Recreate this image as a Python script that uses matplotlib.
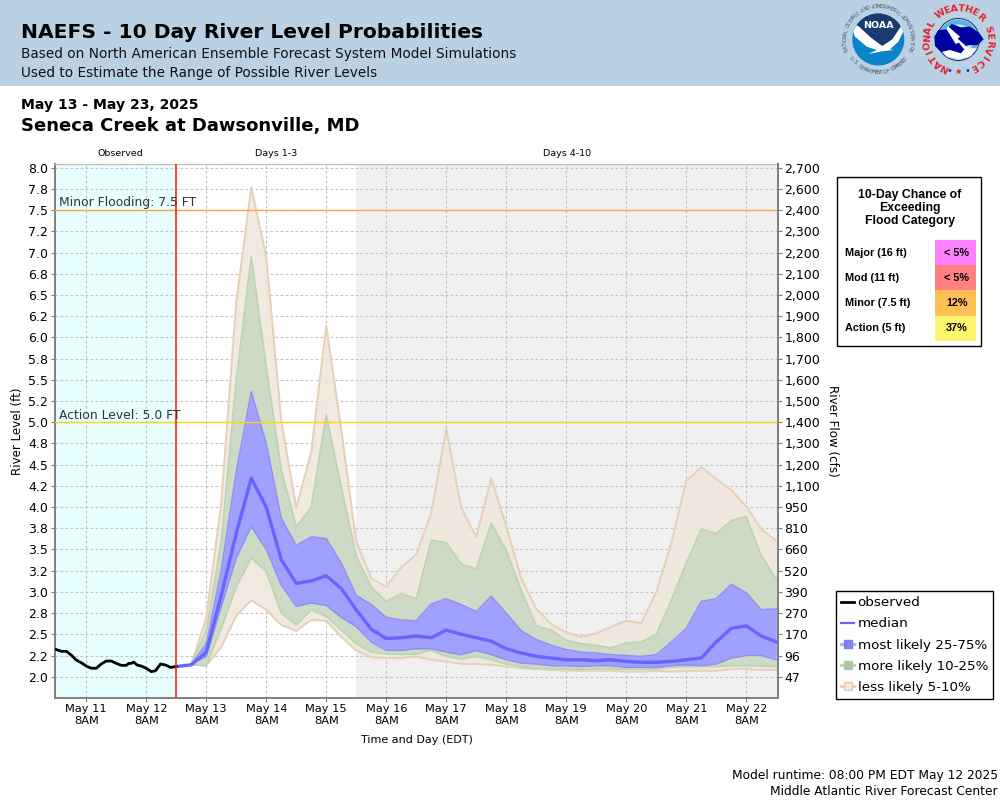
import math
import matplotlib
matplotlib.use("Agg")
import matplotlib.pyplot as plt
from matplotlib.lines import Line2D
from matplotlib.patches import Circle, Polygon, Rectangle

# hours relative to May 13 8AM
obs_hours = [-60, -58, -56, -54, -52, -50, -48, -46, -44, -42, -40, -38, -36, -34, -32, -31, -30, -29, -27.7,
             -26, -24, -22, -20.3, -18.3, -16.3, -14.3, -12]
obs_level = [2.32, 2.30, 2.30, 2.255, 2.197, 2.165, 2.126, 2.10, 2.10, 2.15, 2.185, 2.185, 2.157, 2.134, 2.134,
             2.157, 2.157, 2.173, 2.138, 2.126, 2.10, 2.06, 2.07, 2.15, 2.138, 2.11, 2.12]

fc_hours = list(range(-12, 234, 6))
tan_top = [2.12, 2.145, 2.69, 4.05, 6.41, 7.77, 6.95, 5.02, 3.99, 4.65, 6.14, 4.91, 3.59, 3.16, 3.06, 3.29, 3.44,
           3.93, 4.92, 3.99, 3.65, 4.34, 3.77, 3.16, 2.80, 2.62, 2.52, 2.47, 2.51, 2.59, 2.66, 2.63, 3.00, 3.57,
           4.31, 4.47, 4.33, 4.20, 4.01, 3.74, 3.60]
green_top = [2.12, 2.145, 2.55, 3.60, 5.50, 6.95, 5.66, 4.44, 3.77, 4.00, 5.09, 4.24, 3.42, 3.06, 2.89, 2.98, 2.92,
             3.61, 3.58, 3.33, 3.27, 3.81, 3.49, 3.02, 2.60, 2.55, 2.43, 2.39, 2.37, 2.34, 2.40, 2.41, 2.50, 2.90,
             3.34, 3.74, 3.69, 3.84, 3.89, 3.43, 3.15]
blue_top = [2.12, 2.145, 2.39, 3.26, 4.42, 5.36, 4.75, 3.87, 3.55, 3.65, 3.63, 3.34, 2.96, 2.85, 2.70, 2.67, 2.66,
            2.86, 2.92, 2.85, 2.77, 2.95, 2.75, 2.54, 2.44, 2.37, 2.32, 2.29, 2.28, 2.26, 2.25, 2.24, 2.26, 2.41,
            2.57, 2.89, 2.92, 3.09, 2.99, 2.79, 2.80]
median = [2.12, 2.14, 2.29, 2.96, 3.69, 4.34, 4.00, 3.38, 3.10, 3.13, 3.19, 3.04, 2.79, 2.56, 2.45, 2.46, 2.48,
          2.46, 2.55, 2.50, 2.46, 2.42, 2.33, 2.28, 2.24, 2.22, 2.20, 2.20, 2.19, 2.20, 2.18, 2.17, 2.17, 2.18,
          2.20, 2.22, 2.41, 2.57, 2.60, 2.48, 2.41]
blue_low = [2.12, 2.145, 2.24, 2.83, 3.40, 3.77, 3.50, 3.08, 2.83, 2.87, 2.84, 2.70, 2.59, 2.41, 2.31, 2.31, 2.33,
            2.33, 2.29, 2.26, 2.31, 2.26, 2.20, 2.16, 2.15, 2.13, 2.13, 2.12, 2.13, 2.13, 2.11, 2.11, 2.11, 2.13,
            2.14, 2.13, 2.15, 2.22, 2.25, 2.25, 2.20]
green_low = [2.12, 2.145, 2.13, 2.57, 3.06, 3.40, 3.24, 2.75, 2.61, 2.79, 2.71, 2.55, 2.39, 2.29, 2.27, 2.26, 2.27,
             2.31, 2.24, 2.21, 2.24, 2.20, 2.15, 2.12, 2.10, 2.09, 2.09, 2.09, 2.09, 2.09, 2.09, 2.09, 2.09, 2.11,
             2.12, 2.12, 2.12, 2.13, 2.13, 2.13, 2.12]
tan_low = [2.12, 2.145, 2.13, 2.35, 2.72, 2.90, 2.79, 2.61, 2.54, 2.67, 2.66, 2.47, 2.31, 2.23, 2.22, 2.22, 2.24,
           2.20, 2.18, 2.15, 2.15, 2.14, 2.12, 2.10, 2.09, 2.08, 2.07, 2.07, 2.07, 2.07, 2.06, 2.06, 2.07, 2.06,
           2.07, 2.07, 2.07, 2.09, 2.09, 2.08, 2.08]

level_ticks = [2.0 + 0.25 * i for i in range(25)]
level_labels = ["2.0", "2.2", "2.5", "2.8", "3.0", "3.2", "3.5", "3.8", "4.0", "4.2", "4.5", "4.8", "5.0",
                "5.2", "5.5", "5.8", "6.0", "6.2", "6.5", "6.8", "7.0", "7.2", "7.5", "7.8", "8.0"]
flow_labels = ["47", "96", "170", "270", "390", "520", "660", "810", "950", "1,100", "1,200", "1,300", "1,400",
               "1,500", "1,600", "1,700", "1,800", "1,900", "2,000", "2,100", "2,200", "2,300", "2,400", "2,600",
               "2,700"]
day_ticks = [24 * i for i in range(-2, 10)]
day_labels = ["May %d\n8AM" % d for d in range(11, 23)]

flood_names = ["Major (16 ft)", "Mod (11 ft)", "Minor (7.5 ft)", "Action (5 ft)"]
flood_chance = ["< 5%", "< 5%", "12%", "37%"]
flood_colors = ["#ff80ff", "#ff8080", "#ffbf55", "#fff56e"]

MINOR_LEVEL = 7.5
ACTION_LEVEL = 5.0

TAN = "#f1e8dd"
TAN_EDGE = "#e6d2bb"
GREEN = "#cddac6"
GREEN_EDGE = "#bcd5b0"
BLUE = "#a0a0ff"
BLUE_EDGE = "#9090f0"
MED = "#6666ff"

W, H = 1000, 800
fig = plt.figure(figsize=(10, 8), dpi=100)
L, R, T, B = 55, 777.5, 164, 697.5
ax = fig.add_axes([L / W, 1 - B / H, (R - L) / W, (B - T) / H])
ax.set_xlim(-60.5, 228.5)
ax.set_ylim(1.755, 8.045)

ax.axvspan(-60.5, -12, color="#e8ffff", lw=0, zorder=0)
ax.axvspan(60, 228.5, color="#f0f0f0", lw=0, zorder=0)
ax.grid(True, ls=(0, (2.5, 2)), color="#c2c2c2", lw=0.8, zorder=1)
ax.set_axisbelow(True)

ax.fill_between(fc_hours, tan_low, tan_top, color=TAN, alpha=0.88, lw=0, zorder=2)
ax.plot(fc_hours, tan_top, color=TAN_EDGE, lw=1.5, zorder=2)
ax.plot(fc_hours, tan_low, color=TAN_EDGE, lw=1.5, zorder=2)
ax.fill_between(fc_hours, green_low, green_top, color=GREEN, lw=0, zorder=3)
ax.plot(fc_hours, green_top, color=GREEN_EDGE, lw=1.2, zorder=3)
ax.plot(fc_hours, green_low, color=GREEN_EDGE, lw=1.2, zorder=3)
ax.fill_between(fc_hours, blue_low, blue_top, color=BLUE, lw=0, zorder=4)
ax.plot(fc_hours, blue_top, color=BLUE_EDGE, lw=1.0, zorder=4)
ax.plot(fc_hours, blue_low, color=BLUE_EDGE, lw=1.0, zorder=4)
ax.plot(fc_hours, median, color=MED, lw=2.4, zorder=5)
ax.plot(obs_hours, obs_level, color="black", lw=2.0, zorder=6)

ax.axhline(MINOR_LEVEL, color="#ffa640", lw=1.0, zorder=5)
ax.axhline(ACTION_LEVEL, color="#ffd21a", lw=1.0, zorder=5)
ax.axvline(-12, color="#ff2020", lw=1.2, zorder=7)
ax.text(-59, MINOR_LEVEL + 0.01, "Minor Flooding: 7.5 FT", fontsize=8.9, color="#333333", va="bottom", zorder=8)
ax.text(-59, ACTION_LEVEL, "Action Level: 5.0 FT", fontsize=8.9, color="#333333", va="bottom", zorder=8)

ax.set_xticks(day_ticks)
ax.set_xticklabels(day_labels, fontsize=8.2, linespacing=1.2)
ax.set_yticks(level_ticks)
ax.set_yticklabels(level_labels, fontsize=9)
ax.tick_params(axis="both", length=3, color="#808080", pad=2)
for name, spine in ax.spines.items():
    spine.set_color("#808080" if name != "top" else "#c2c2c2")
    spine.set_linewidth(1.4 if name != "top" else 1)

ax2 = ax.twinx()
ax2.set_ylim(ax.get_ylim())
ax2.set_yticks(level_ticks)
ax2.set_yticklabels(flow_labels, fontsize=9)
ax2.tick_params(axis="y", length=3, color="#808080", pad=2)
ax2.spines["right"].set_color("#808080")
ax2.spines["right"].set_linewidth(1.4)
ax2.spines["top"].set_visible(False)
ax2.spines["left"].set_visible(False)
ax2.spines["bottom"].set_visible(False)

handles = [
    Line2D([], [], color="black", lw=2),
    Line2D([], [], color=MED, lw=1.6),
    Line2D([], [], color="#a8a8ff", lw=2, marker="s", ms=6, mfc="#8080f0", mec="#8080f0"),
    Line2D([], [], color="#b8d8a8", lw=2, marker="s", ms=6, mfc="#a8c4a0", mec="#a8d098"),
    Line2D([], [], color="#e6cdb0", lw=2, marker="s", ms=6, mfc="#f1e8dd", mec="#e6cdb0"),
]
leg = fig.legend(handles, ["observed", "median", "most likely 25-75%", "more likely 10-25%", "less likely 5-10%"],
                 loc="upper left", bbox_to_anchor=(835.5 / W, 1 - 591 / H), fontsize=9.7, frameon=True,
                 fancybox=False, framealpha=1, edgecolor="black", handlelength=1.0, handletextpad=0.25,
                 labelspacing=0.6, borderpad=0.4, borderaxespad=0)
leg.get_frame().set_linewidth(1.0)

# overlay in pixel coordinates for header, panel and logos
ov = fig.add_axes([0, 0, 1, 1], zorder=-1)
ov.set_xlim(0, W)
ov.set_ylim(H, 0)
ov.axis("off")
ov.add_patch(Rectangle((0, 0), W, 86, color="#bad1e4", lw=0))

ov2 = fig.add_axes([0, 0, 1, 1], zorder=5)
ov2.patch.set_alpha(0)
ov2.set_xlim(0, W)
ov2.set_ylim(H, 0)
ov2.axis("off")

ov2.text(21, 33, "NAEFS - 10 Day River Level Probabilities", fontsize=14.6, fontweight="bold", va="center")
ov2.text(21, 54, "Based on North American Ensemble Forecast System Model Simulations", fontsize=9.8, color="#111111", va="center")
ov2.text(21, 73, "Used to Estimate the Range of Possible River Levels", fontsize=9.8, color="#111111", va="center")
ov2.text(21, 105, "May 13 - May 23, 2025", fontsize=10.1, fontweight="bold", va="center")
ov2.text(21, 126, "Seneca Creek at Dawsonville, MD", fontsize=13, fontweight="bold", va="center")

ov2.text(120, 153.5, "Observed", fontsize=6.8, ha="center", va="center")
ov2.text(276.5, 153.5, "Days 1-3", fontsize=6.8, ha="center", va="center")
ov2.text(567, 153.5, "Days 4-10", fontsize=6.8, ha="center", va="center")
ov2.text(18, 431, "River Level (ft)", fontsize=8.6, rotation=90, ha="center", va="center")
ov2.text(832, 431, "River Flow (cfs)", fontsize=8.6, rotation=-90, ha="center", va="center")
ov2.text(417, 740, "Time and Day (EDT)", fontsize=8, ha="center", va="center")
ov2.text(998, 775, "Model runtime: 08:00 PM EDT May 12 2025", fontsize=8.8, ha="right", va="center")
ov2.text(998, 791.5, "Middle Atlantic River Forecast Center", fontsize=8.8, ha="right", va="center")

# flood chance panel
ov2.add_patch(Rectangle((836.5, 176.5), 144, 169, fc="white", ec="black", lw=1))
ov2.text(910, 208, "10-Day Chance of\nExceeding\nFlood Category", family="Liberation Sans", fontweight="bold",
         fontsize=8.8, ha="center", va="center", linespacing=1.15)
row_h = 25.2
for i, name in enumerate(flood_names):
    y0 = 240 + i * row_h
    ov2.add_patch(Rectangle((935, y0), 41, row_h, color=flood_colors[i], lw=0))
    ov2.text(845, y0 + row_h / 2, name, family="Liberation Sans", fontweight="bold", fontsize=7.8, va="center")
    ov2.text(957, y0 + row_h / 2, flood_chance[i], family="Liberation Sans", fontweight="bold", fontsize=7.8,
             ha="center", va="center")


def ring_text(cx, cy, r, text, start, end, **kw):
    step = (end - start) / (len(text) - 1)
    for i, ch in enumerate(text):
        t = start + i * step
        a = math.radians(t)
        # bottom arcs run backwards and read from inside the ring
        rot = 180 - t if start > end else -t
        ov2.text(cx + r * math.sin(a), cy - r * math.cos(a), ch, rotation=rot, rotation_mode="anchor",
                 ha="center", va="center", **kw)


def zoomed(points):
    # logo shapes were measured on a 3x crop starting at x=835
    return [(835 + x / 3, y / 3) for x, y in points]


# NOAA logo
noaa_x, noaa_y = 878.3, 39.5
disc = Circle((noaa_x, noaa_y), 26, fc="#0a84c8", ec="none")
ov2.add_patch(disc)
navy = Polygon(zoomed([(30, 30), (230, 30), (225, 60), (205, 65), (172, 118), (140, 140), (105, 110), (60, 75), (30, 70)]),
               fc="#1b3a6f", ec="none")
ov2.add_patch(navy)
navy.set_clip_path(disc)
gull = Polygon(zoomed([(45, 68), (70, 78), (110, 115), (142, 138), (172, 118), (210, 62), (212, 80), (190, 125),
                       (165, 148), (178, 150), (140, 154), (100, 162), (125, 150), (95, 140), (60, 110)]),
               fc="white", ec="none")
ov2.add_patch(gull)
gull.set_clip_path(disc)
ov2.text(noaa_x, 25.5, "NOAA", color="white", fontsize=6.8, fontweight="bold", ha="center", va="center")
ring_text(noaa_x, noaa_y, 33, "NATIONAL OCEANIC AND ATMOSPHERIC ADMINISTRATION", -108, 108, fontsize=3.5, color="#445566")
ring_text(noaa_x, noaa_y, 33, "U.S. DEPARTMENT OF COMMERCE", 235, 125, fontsize=3.5, color="#445566")

# NWS logo
nws_x, nws_y = 958.3, 39.5
ov2.add_patch(Circle((nws_x, nws_y), 21, fc="white", ec="#1b3a6f", lw=0.8))
ring = Circle((nws_x, nws_y), 20, fc="#58b4e0", ec="none")
ov2.add_patch(ring)
inner = Circle((nws_x, nws_y), 15, fc="#d4ecf8", ec="none")
ov2.add_patch(inner)
ground = Polygon(zoomed([(315, 145), (425, 145), (405, 170), (370, 178), (335, 170)]), fc="white", ec="none")
ov2.add_patch(ground)
cloud = Polygon(zoomed([(298, 110), (310, 90), (335, 88), (350, 72), (378, 82), (405, 80), (432, 98), (446, 118),
                        (428, 135), (398, 136), (378, 160), (345, 150), (318, 156), (300, 138)]), fc="#00009c", ec="none")
ov2.add_patch(cloud)
bolt = Polygon(zoomed([(338, 78), (375, 110), (368, 116), (395, 140), (415, 170), (385, 145), (372, 128), (362, 132), (335, 88)]),
               fc="white", ec="none")
ov2.add_patch(bolt)
ring_text(nws_x, nws_y, 31, "NATIONAL WEATHER SERVICE", -153, 150, fontsize=6.8, fontweight="bold", color="#e8202a")
ov2.text(nws_x, 71.5, "★", color="#e8202a", fontsize=6, ha="center", va="center")
ov2.text(nws_x - 9, 70.5, "•", color="#1b3a9f", fontsize=7, ha="center", va="center")
ov2.text(nws_x + 9, 70.5, "•", color="#1b3a9f", fontsize=7, ha="center", va="center")

fig.savefig("out.png", dpi=100)
